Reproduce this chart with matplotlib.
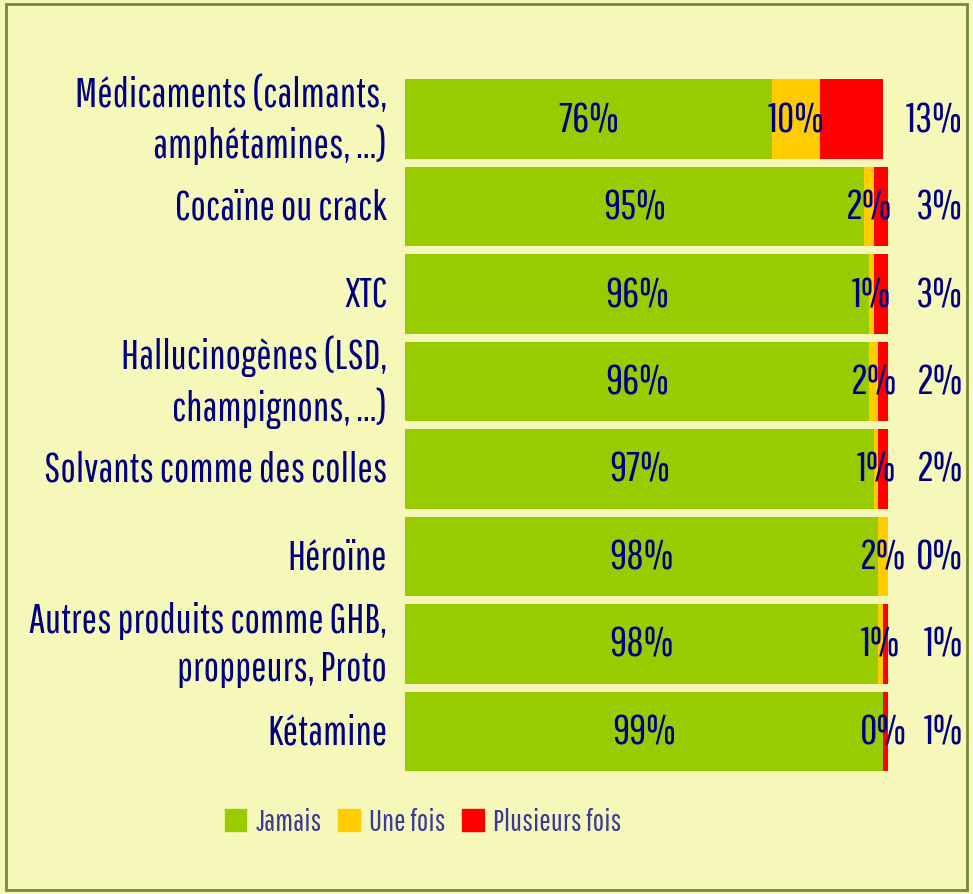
import matplotlib
matplotlib.use("Agg")
import matplotlib.pyplot as plt
from matplotlib.patches import Rectangle, Patch

plt.rcParams['font.family'] = ['Pathway Gothic One', 'Roboto Condensed', 'DejaVu Sans']

categories = [
    "Médicaments (calmants,\namphétamines, ...)",
    "Cocaïne ou crack",
    "XTC",
    "Hallucinogènes (LSD,\nchampignons, ...)",
    "Solvants comme des colles",
    "Héroïne",
    "Autres produits comme GHB,\nproppeurs, Proto",
    "Kétamine",
]
jamais = [76, 95, 96, 96, 97, 98, 98, 99]
une_fois = [10, 2, 1, 2, 1, 2, 1, 0]
plusieurs = [13, 3, 3, 2, 2, 0, 1, 1]
series_names = ["Jamais", "Une fois", "Plusieurs fois"]

GREEN = "#99CC00"
YELLOW = "#FFCC00"
RED = "#FF0000"
NAVY = "#000080"
BG = "#F6F8B9"

fig = plt.figure(figsize=(9.73, 8.95), dpi=100, facecolor=BG)
fig.patches.append(Rectangle((6 / 973, 4 / 895), 961 / 973, 886 / 895,
                             transform=fig.transFigure, fill=False,
                             edgecolor="#77883A", linewidth=2))

ax = fig.add_axes([405 / 973, 1 - 776.25 / 895, 483 / 973, 700 / 895])
ax.patch.set_alpha(0)

y = list(range(len(categories)))
h = 0.914
left2 = [a + b for a, b in zip(jamais, une_fois)]
ax.barh(y, jamais, height=h, color=GREEN)
ax.barh(y, une_fois, left=jamais, height=h, color=YELLOW)
ax.barh(y, plusieurs, left=left2, height=h, color=RED)

fs = 30.5
for i in y:
    ax.text(jamais[i] / 2, i, f"{jamais[i]}%", ha="center", va="center",
            fontsize=fs, color=NAVY)
    ax.text(jamais[i] + une_fois[i] / 2, i, f"{une_fois[i]}%", ha="center",
            va="center", fontsize=fs, color=NAVY)
    ax.text(115.5, i, f"{plusieurs[i]}%", ha="right", va="center",
            fontsize=fs, color=NAVY, clip_on=False)
    ax.text(-3.7, i, categories[i], ha="right", va="center", fontsize=29.5,
            color=NAVY, linespacing=1.3)

ax.set_xlim(0, 100)
ax.set_ylim(len(categories) - 0.5, -0.5)
ax.axis("off")

handles = [Patch(color=c) for c in (GREEN, YELLOW, RED)]
leg = fig.legend(handles, series_names, loc="center", ncol=3,
                 bbox_to_anchor=(423 / 973, 1 - 823 / 895), frameon=False,
                 fontsize=22, handlelength=0.7, handleheight=0.7,
                 handletextpad=0.3, columnspacing=0.55)
for t in leg.get_texts():
    t.set_color("#3A3A9A")

fig.savefig("out.png", dpi=100, facecolor=BG)
